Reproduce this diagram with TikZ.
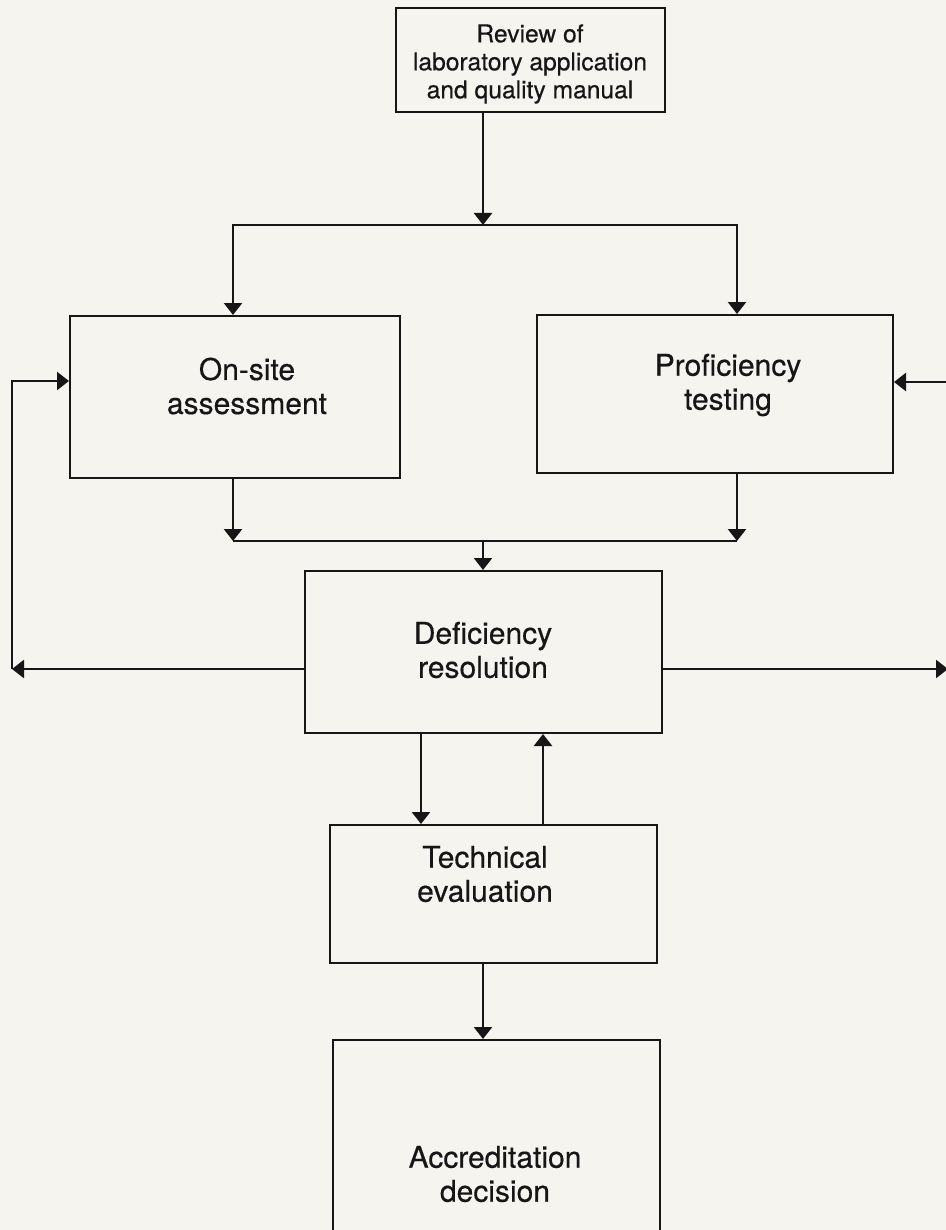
\documentclass[tikz,border=0pt]{standalone}
\usepackage{fontspec}
\setmainfont{TeX Gyre Heros}[FakeBold=0.4]
\usetikzlibrary{arrows.meta}
\definecolor{paper}{RGB}{245,244,238}
\definecolor{ink}{RGB}{22,22,22}

\begin{document}
\begin{tikzpicture}[x=0.5pt, y=-0.5pt, ->, >={Triangle[width=9pt,length=6pt]}, line width=1.2pt, color=ink,
    main box/.style={rectangle, draw, line width=1pt, inner sep=0pt},
    box text/.style={align=center, inner sep=0pt}]
  \tikzstyle{every node}=[font=\fontsize{15}{17}\selectfont]

  \path[use as bounding box, fill=paper, -] (0,0) rectangle (946,1230);
  \clip (0,0) rectangle (946,1230);

  % boxes
  \node[main box, minimum width=134.5pt, minimum height=52pt] (review) at (530.5,60) {};
  \node[main box, minimum width=165pt, minimum height=81pt] (onsite) at (235,397) {};
  \node[main box, minimum width=178pt, minimum height=79pt] (prof) at (715,394) {};
  \node[main box, minimum width=178.5pt, minimum height=81pt] (def) at (483.5,652) {};
  \node[main box, minimum width=163.5pt, minimum height=69pt] (tech) at (493.5,894) {};
  \node[main box, minimum width=163.5pt, minimum height=115pt] (accr) at (496.5,1155) {};

  % box texts, set a little off centre
  \node[box text, font=\fontsize{12.3}{14}\selectfont] (review-txt) at (530,64) {Review of\\laboratory application\\and quality manual};
  \node[box text] (onsite-txt) at (247,386) {On-site\\assessment};
  \node[box text] (prof-txt) at (728,385) {Proficiency\\testing};
  \node[box text] (def-txt) at (483,650) {Deficiency\\resolution};
  \node[box text] (tech-txt) at (485,874) {Technical\\evaluation};
  \node[box text] (accr-txt) at (495,1174) {Accreditation\\decision};

  % split and join points
  \coordinate (split) at (483,225);
  \coordinate (splitL) at (233,225);
  \coordinate (splitR) at (737,225);
  \coordinate (join) at (483,541);
  \coordinate (joinL) at (233,541);
  \coordinate (joinR) at (737,541);
  \coordinate (backL) at (12,669);
  \coordinate (backLtop) at (12,381);
  \coordinate (backR) at (948,669);
  \coordinate (backRtop) at (948,382);

  % review goes to both branches
  \draw (review.south -| split) -- (split);
  \draw[<->] (onsite.north -| splitL) -- (splitL) -- (splitR) -- (prof.north -| splitR);

  % branches come back together
  \draw (onsite.south -| joinL) -- (joinL);
  \draw (prof.south -| joinR) -- (joinR);
  \draw[-] (joinL) -- (joinR);
  \draw (join) -- (def.north -| join);

  % deficiencies loop back
  \draw (def.west |- backL) -- (backL);
  \draw (backL) -- (backLtop) -- (onsite.west |- backLtop);
  \draw (def.east |- backR) -- (backR);
  \draw (backR) -- (backRtop) -- (prof.east |- backRtop);

  % evaluation and decision
  \draw (def.south -| 421,0) -- (tech.north -| 421,0);
  \draw (tech.north -| 543,0) -- (def.south -| 543,0);
  \draw (tech.south -| 483,0) -- (accr.north -| 483,0);
\end{tikzpicture}
\end{document}
